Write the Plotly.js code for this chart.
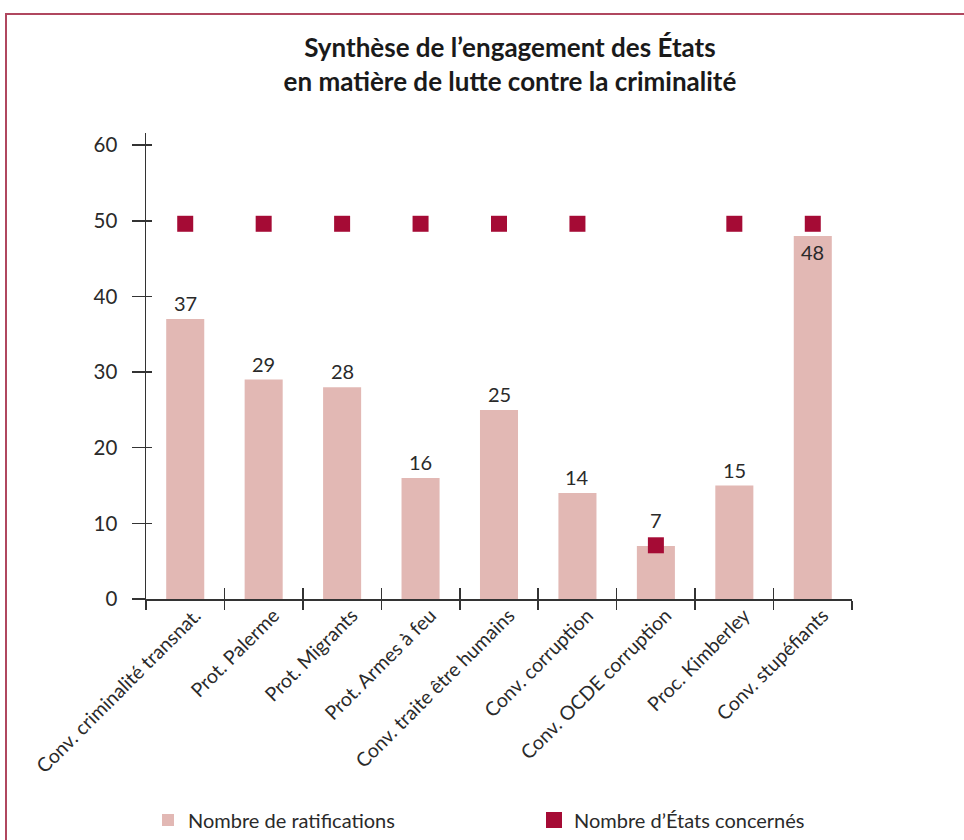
<!DOCTYPE html>
<html><head><meta charset="utf-8">
<script src="https://cdn.plot.ly/plotly-3.0.1.min.js"></script>
<style>
html,body{margin:0;padding:0;background:#fff;overflow:hidden}
#frame{position:absolute;left:5px;top:13px;width:1000px;height:900px;border:2px solid #b0475f;box-sizing:border-box}
#chart{position:absolute;left:0;top:0;width:964px;height:840px}
</style></head>
<body>
<div id="frame"></div>
<div id="chart"></div>
<script>
const categories = ["Conv. criminalité transnat.", "Prot. Palerme", "Prot. Migrants", "Prot. Armes à feu", "Conv. traite être humains", "Conv. corruption", "Conv. OCDE corruption", "Proc. Kimberley", "Conv. stupéfiants"];
const ratifications = [37, 29, 28, 16, 25, 14, 7, 15, 48];
const etatsConcernes = [49.6, 49.6, 49.6, 49.6, 49.6, 49.6, 7.1, 49.6, 49.6];
const yTicks = [0, 10, 20, 30, 40, 50, 60];

const FONT = "Lato, 'Open Sans', sans-serif";

const data = [
  {
    type: "bar", name: "Nombre de ratifications",
    x: categories, y: ratifications,
    marker: {color: "#e2b8b4"}, legend: "legend",
    hoverinfo: "x+y"
  },
  {
    type: "scatter", mode: "markers", name: "Nombre d’États concernés",
    x: categories, y: etatsConcernes, legend: "legend2",
    marker: {symbol: "square", size: 16, color: "#a50b35"},
    cliponaxis: false
  },
  {type: "scatter", x: [], y: [], xaxis: "x2", yaxis: "y2", showlegend: false, hoverinfo: "skip"}
];

// value labels: above the bar, raised when the marker sits on the bar top,
// or inside the top when the marker sits just above the bar
const annotations = ratifications.map((v, i) => {
  const d = etatsConcernes[i] - v;
  const overlaps = Math.abs(d) < 1;
  const inside = !overlaps && d > 0 && d < 3;
  return {
    x: categories[i], y: v, xref: "x", yref: "y",
    text: String(v), showarrow: false,
    yanchor: inside ? "top" : "bottom",
    yshift: inside ? -2 : (overlaps ? 12 : 2),
    font: {size: 20, color: "#2a2a2a", family: FONT}
  };
});

const legendCommon = {
  orientation: "h", xref: "container", xanchor: "left",
  yref: "container", y: 20/840, yanchor: "middle",
  font: {size: 20, color: "#2a2a2a", family: FONT}, itemwidth: 30
};

const layout = {
  width: 964, height: 840,
  margin: {l: 146, r: 112, t: 133, b: 241},
  paper_bgcolor: "rgba(0,0,0,0)", plot_bgcolor: "rgba(0,0,0,0)",
  font: {family: FONT, color: "#2a2a2a", size: 18},
  title: {
    text: "<b>Synthèse de l’engagement des États<br>en matière de lutte contre la criminalité</b>",
    font: {size: 26, color: "#1a1a1a", family: FONT},
    x: 0.529, xref: "container", xanchor: "center",
    y: 0.932, yref: "container", yanchor: "top", automargin: false
  },
  bargap: 0.515,
  showlegend: true,
  legend: Object.assign({}, legendCommon, {x: 148/964}),
  legend2: Object.assign({}, legendCommon, {x: 534/964}),
  annotations: annotations,
  xaxis: {
    type: "category", range: [-0.5, 8.5], tickson: "boundaries", automargin: false,
    ticks: "outside", ticklen: 9, tickwidth: 1.5, tickcolor: "#333",
    showline: true, linecolor: "#333", linewidth: 1.5,
    showgrid: false, zeroline: false, tickangle: -45,
    ticklabelshift: 10, ticklabelstandoff: -4,
    tickfont: {size: 19.5, color: "#2a2a2a", family: FONT}
  },
  yaxis: {
    range: [0, 61.6], tickvals: yTicks, ticktext: yTicks.map(String), automargin: false,
    ticks: "outside", ticklen: 13, tickwidth: 1.5, tickcolor: "#333",
    showline: true, linecolor: "#333", linewidth: 1.5,
    showgrid: false, zeroline: false, ticklabelstandoff: 10,
    tickfont: {size: 20.5, color: "#2a2a2a", family: FONT}
  },
  xaxis2: {
    type: "category", overlaying: "x", anchor: "y2", range: [-0.5, 8.5],
    tickmode: "array", tickvals: [-0.5, 0.5, 1.5, 2.5, 3.5, 4.5, 5.5, 6.5, 7.5, 8.5],
    ticks: "inside", ticklen: 11, tickwidth: 1.5, tickcolor: "#333",
    showticklabels: false, showgrid: false, zeroline: false, showline: false
  },
  yaxis2: {
    overlaying: "y", anchor: "x2", side: "left", range: [0, 61.6], tickvals: yTicks,
    ticks: "inside", ticklen: 6, tickwidth: 1.5, tickcolor: "#333",
    showticklabels: false, showgrid: false, zeroline: false, showline: false
  }
};

Plotly.newPlot("chart", data, layout, {displayModeBar: false, staticPlot: true});
</script>
</body></html>
